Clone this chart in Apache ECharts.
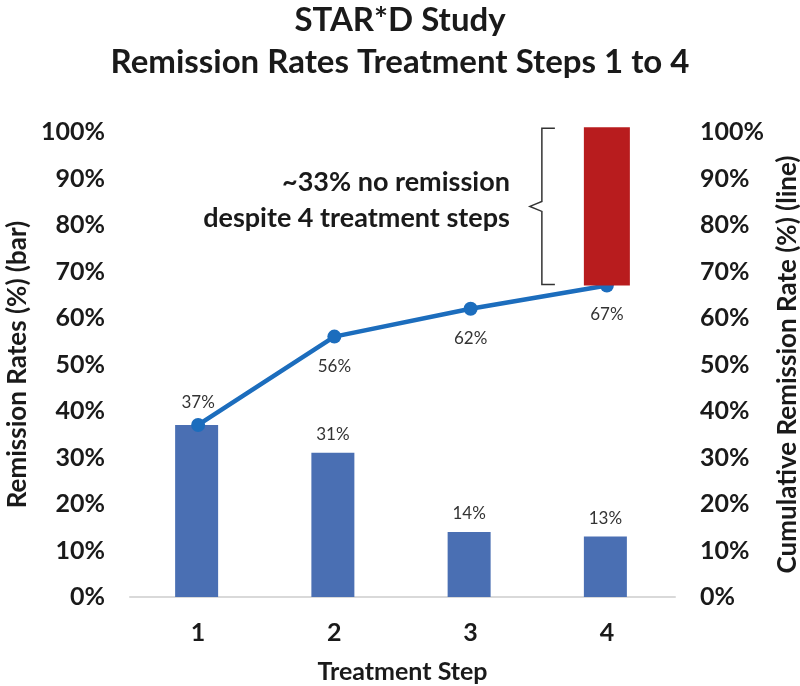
<!DOCTYPE html>
<html>
<head>
    <meta charset="utf-8" />
    <title>STAR*D Study</title>
    <script src="https://cdn.jsdelivr.net/npm/echarts@6/dist/echarts.min.js"></script>
    <style>
        html, body { margin: 0; padding: 0; background: #fff; }
    </style>
</head>
<body>
    <div id="main" style="width: 800px; height: 686px;"></div>
    <script type="text/javascript">
        // data
        var steps = ['1', '2', '3', '4'];
        var remissionRates = [37, 31, 14, 13];          // bars
        var cumulativeRates = [37, 56, 62, 67];         // line
        var noRemissionBase = [null, null, null, 67];   // invisible base of the red bar
        var noRemission = [null, null, null, 34];       // red bar (~33%)
        var yMin = 0, yMax = 100, yStep = 10;

        var font = 'Lato, "Open Sans", sans-serif';
        var txt = '#1a1a1a';

        var myChart = echarts.init(document.getElementById('main'));

        // line labels: first one above the point, the rest below
        var lineData = cumulativeRates.map(function (v, i) {
            return {
                value: v,
                label: i === 0 ? { position: 'top', distance: 7 } : { position: 'bottom' }
            };
        });
        // bar 1 shares its label with the line point, so only the line shows it
        var barData = remissionRates.map(function (v, i) {
            return { value: v, label: { show: i !== 0 } };
        });

        var yLabel = {
            formatter: '{value}%',
            fontFamily: font,
            fontWeight: 'bold',
            fontSize: 25,
            color: txt,
            margin: 25
        };

        var option = {
            animation: false,
            title: {
                text: 'STAR*D Study\nRemission Rates Treatment Steps 1 to 4',
                left: 'center',
                top: -6,
                textStyle: {
                    fontFamily: font,
                    fontWeight: 'bold',
                    fontSize: 33,
                    lineHeight: 42,
                    color: txt
                }
            },
            grid: { left: 130, right: 125, top: 132, bottom: 89, outerBoundsMode: 'none', containLabel: false },
            xAxis: {
                type: 'category',
                data: steps,
                name: 'Treatment Step',
                nameLocation: 'middle',
                nameGap: 62,
                nameTextStyle: { fontFamily: font, fontWeight: 'bold', fontSize: 25, color: txt },
                axisLine: { lineStyle: { color: '#d9d9d9', width: 2 } },
                axisTick: { show: false },
                axisLabel: { fontFamily: font, fontWeight: 'bold', fontSize: 25, color: txt, margin: 23 }
            },
            yAxis: [
                {
                    type: 'value',
                    position: 'left',
                    min: yMin, max: yMax, interval: yStep,
                    name: 'Remission Rates (%) (bar)',
                    nameLocation: 'middle',
                    nameGap: 87,
                    nameTextStyle: { fontFamily: font, fontWeight: 'bold', fontSize: 26, color: txt },
                    axisLine: { show: false },
                    axisTick: { show: false },
                    splitLine: { show: false },
                    axisLabel: yLabel
                },
                {
                    type: 'value',
                    position: 'right',
                    min: yMin, max: yMax, interval: yStep,
                    name: 'Cumulative Remission Rate (%) (line)',
                    nameLocation: 'middle',
                    nameGap: 96,
                    nameRotate: 90,
                    nameTextStyle: { fontFamily: font, fontWeight: 'bold', fontSize: 26, color: txt },
                    axisLine: { show: false },
                    axisTick: { show: false },
                    splitLine: { show: false },
                    axisLabel: yLabel
                }
            ],
            series: [
                {
                    name: 'Remission rate',
                    type: 'bar',
                    yAxisIndex: 0,
                    barWidth: 43,
                    barGap: '-100%',
                    z: 1,
                    itemStyle: { color: '#4a6fb3' },
                    label: {
                        show: true,
                        position: 'top',
                        distance: 10,
                        formatter: '{c}%',
                        fontFamily: font,
                        fontSize: 17,
                        color: '#333'
                    },
                    data: barData
                },
                {
                    name: 'Cumulative remission',
                    type: 'line',
                    yAxisIndex: 1,
                    z: 3,
                    symbol: 'circle',
                    symbolSize: 14,
                    lineStyle: { color: '#1c6dbd', width: 4.5 },
                    itemStyle: { color: '#1c6dbd' },
                    label: {
                        show: true,
                        distance: 14,
                        formatter: '{c}%',
                        fontFamily: font,
                        fontSize: 17,
                        color: '#333'
                    },
                    data: lineData
                },
                {
                    name: 'base',
                    type: 'bar',
                    yAxisIndex: 0,
                    stack: 'gap',
                    barWidth: 46,
                    itemStyle: { color: 'transparent' },
                    data: noRemissionBase
                },
                {
                    name: 'No remission',
                    type: 'bar',
                    yAxisIndex: 0,
                    stack: 'gap',
                    barWidth: 46,
                    z: 5,
                    clip: false,
                    itemStyle: { color: '#b81c1e' },
                    data: noRemission
                }
            ]
        };
        myChart.setOption(option);

        // brace and note beside the red bar, placed from the axis scale
        var x4 = myChart.convertToPixel({ xAxisIndex: 0 }, steps[3]);
        var yLow = myChart.convertToPixel({ yAxisIndex: 0 }, noRemissionBase[3]);
        var yHigh = myChart.convertToPixel({ yAxisIndex: 0 }, noRemissionBase[3] + noRemission[3]);
        var bx = x4 - 65;   // brace spine
        var yMid = yHigh + (yLow - yHigh) * 0.5;
        myChart.setOption({
            graphic: [
                {
                    type: 'polyline',
                    shape: {
                        points: [
                            [bx + 13, yHigh + 1], [bx, yHigh + 1], [bx, yMid - 5],
                            [bx - 12, yMid], [bx, yMid + 5], [bx, yLow - 1], [bx + 13, yLow - 1]
                        ]
                    },
                    style: { stroke: '#333', lineWidth: 1.5, fill: null }
                },
                {
                    type: 'text',
                    x: bx - 32,
                    y: yMid - 42,
                    style: {
                        text: '~33% no remission\ndespite 4 treatment steps',
                        align: 'right',
                        verticalAlign: 'top',
                        lineHeight: 36,
                        fontFamily: font,
                        fontWeight: 'bold',
                        fontSize: 27,
                        fill: txt
                    }
                }
            ]
        });
    </script>
</body>
</html>
